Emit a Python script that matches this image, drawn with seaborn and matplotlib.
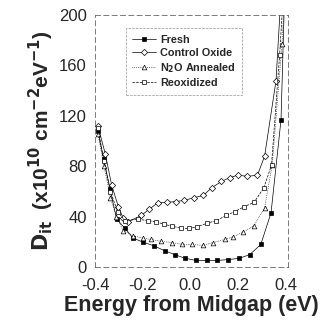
import numpy as np
import pandas as pd
import matplotlib
matplotlib.use("Agg")
import matplotlib.pyplot as plt
import seaborn as sns

# energy (eV) and Dit (x1e10 cm^-2 eV^-1)
fresh_e = [-0.388, -0.364, -0.337, -0.309, -0.275, -0.240, -0.200, -0.154, -0.107, -0.066,
           -0.021, 0.025, 0.069, 0.113, 0.158, 0.206, 0.250, 0.296, 0.339, 0.381, 0.398]
fresh_d = [108, 86, 62, 38, 31, 23, 20, 17, 13, 10,
           7, 5.3, 5.3, 5.3, 6, 7, 10, 18, 43, 117, 230]

control_e = [-0.388, -0.357, -0.330, -0.302, -0.282, -0.261, -0.206, -0.172, -0.137, -0.096,
             -0.062, -0.025, 0.014, 0.055, 0.090, 0.131, 0.165, 0.200, 0.240, 0.282, 0.312, 0.360, 0.385]
control_d = [112, 90, 65, 48, 39, 36, 41, 46, 51, 51.5,
             52, 53, 55, 57, 63, 68, 71, 73, 72, 73, 88, 148, 230]

n2o_e = [-0.388, -0.362, -0.335, -0.310, -0.282, -0.240, -0.200, -0.165, -0.124, -0.075,
         -0.034, 0.007, 0.052, 0.096, 0.144, 0.179, 0.223, 0.268, 0.312, 0.344, 0.385, 0.400]
n2o_d = [106, 80, 55, 40, 29, 25, 23, 22, 20.5, 19.5,
         18, 18, 17.3, 19.5, 22, 24, 28, 33, 47, 81, 177, 230]

reox_e = [-0.388, -0.362, -0.335, -0.305, -0.275, -0.220, -0.179, -0.144, -0.110, -0.075,
          -0.041, -0.007, 0.028, 0.069, 0.110, 0.151, 0.186, 0.227, 0.268, 0.309, 0.341, 0.375, 0.395]
reox_d = [110, 84, 60, 44, 37, 38, 37, 36, 34, 32.5,
          31, 30.7, 32, 34.7, 37, 41, 44, 48, 51.5, 63, 81, 168, 230]

labels = ["Fresh", "Control Oxide", "N$_{\\mathbf{2}}$O Annealed", "Reoxidized"]

series = [
    (labels[0], fresh_e, fresh_d, "s", "black"),
    (labels[1], control_e, control_d, "D", "white"),
    (labels[2], n2o_e, n2o_d, "^", "white"),
    (labels[3], reox_e, reox_d, "s", "white"),
]
styles = ["-", "-", ":", "--"]

sns.set_style("white")
plt.rcParams['font.family'] = ['Liberation Sans', 'DejaVu Sans']

fig = plt.figure(figsize=(3.21, 3.27), dpi=100)
ax = fig.add_axes([0.296, 0.183, 0.601, 0.771])

for (lab, e, d, mk, fc), ls in zip(series, styles):
    df = pd.DataFrame({"E": e, "Dit": d})
    sns.lineplot(data=df, x="E", y="Dit", ax=ax, color="black", lw=0.5, linestyle=ls,
                 marker=mk, markersize=3.4 if mk != "D" else 3.2,
                 markerfacecolor=fc, markeredgecolor="black", markeredgewidth=0.5,
                 label=lab, sort=False)

ax.set_xlim(-0.4, 0.41)
ax.set_ylim(0, 200)
ax.set_xticks([-0.4, -0.2, 0.0, 0.2, 0.4])
ax.set_xticklabels(["-0.4", "-0.2", "0.0", "0.2", "0.4"])
ax.set_yticks([0, 40, 80, 120, 160, 200])
ax.tick_params(labelsize=12, length=0)
ax.tick_params(axis="x", pad=8)
ax.tick_params(axis="y", pad=6)
for s in ax.spines.values():
    s.set_linewidth(0.6)
    s.set_color("#666666")
    s.set_linestyle((0, (6, 4)))

ax.set_xlabel("Energy from Midgap (eV)", fontsize=15.5, fontweight="bold", labelpad=1)
ax.set_ylabel(r"$\mathbf{D_{it}}$  (x10$^{\mathbf{10}}$ cm$^{\mathbf{-2}}$eV$^{\mathbf{-1}}$)",
              fontsize=15, fontweight="bold", labelpad=2)

leg = ax.legend(loc="upper left", bbox_to_anchor=(0.13, 0.97), fontsize=7.8,
                frameon=True, handlelength=2.2, handletextpad=0.4, labelspacing=0.3,
                borderpad=0.6, fancybox=False)
leg.get_frame().set_edgecolor("#777777")
leg.get_frame().set_linestyle("--")
leg.get_frame().set_linewidth(0.5)
for t in leg.get_texts():
    t.set_fontweight("bold")

fig.savefig("out.png", dpi=100, facecolor="white")
